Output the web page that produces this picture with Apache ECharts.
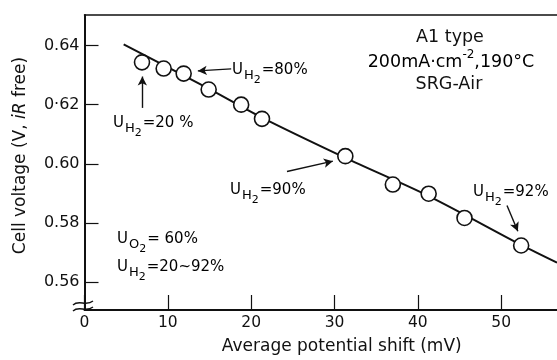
<!DOCTYPE html>
<html>
<head>
<meta charset="utf-8">
<script src="https://cdn.jsdelivr.net/npm/echarts@6.0.0/dist/echarts.min.js"></script>
<style>
  html, body { margin: 0; padding: 0; background: #fff; }
  #chart { width: 557px; height: 360px; }
</style>
</head>
<body>
<div id="chart"></div>
<script>
// measured points (circles)
const shiftMv = [6.9, 9.5, 11.9, 14.9, 18.8, 21.3, 31.3, 37.0, 41.3, 45.6, 52.4];
const cellVoltage = [0.6343, 0.6322, 0.6305, 0.6251, 0.6200, 0.6152, 0.6026, 0.5930, 0.5899, 0.5817, 0.5724];

// drawn curve through the points
const fitX = [4.7, 14.9, 21.3, 31.3, 41.3, 52.4, 56.7];
const fitY = [0.6404, 0.6254, 0.6156, 0.6020, 0.5891, 0.5726, 0.5666];

// ticks
const xTickValues = [0, 10, 20, 30, 40, 50];
const yTickValues = [0.56, 0.58, 0.60, 0.62, 0.64];
const yTickLabels = ['0.56', '0.58', '0.60', '0·62', '0.64'];

// arrows: [tail x, tail y, head x, head y] in data units
const arrows = [
  [6.94, 0.6189, 6.94, 0.6295],
  [17.6, 0.6321, 13.6, 0.6314],
  [24.3, 0.5974, 29.8, 0.6009],
  [50.7, 0.5859, 52.0, 0.5772]
];

const FONT = '"DejaVu Sans", sans-serif';
const INK = '#111';

const subRich = {
  u: { fontSize: 15, fontFamily: FONT, color: INK, verticalAlign: 'top' },
  h: { fontSize: 13, fontFamily: FONT, color: INK, verticalAlign: 'top', padding: [6, 0, 0, 1] },
  n: { fontSize: 11, fontFamily: FONT, color: INK, verticalAlign: 'top', padding: [12, 1, 0, 0] }
};

function uText(sub, rest, left, top) {
  return {
    type: 'text', left: left, top: top,
    style: { text: '{u|U}{h|' + sub + '}{n|2}{u|' + rest + '}', rich: subRich }
  };
}

function squiggle(y) {
  return {
    type: 'bezierCurve',
    shape: { x1: 73, y1: y + 2, cpx1: 79, cpy1: y - 4, cpx2: 86, cpy2: y + 4, x2: 93, y2: y - 2 },
    style: { stroke: INK, lineWidth: 1.3, fill: null }
  };
}

const chart = echarts.init(document.getElementById('chart'));

chart.setOption({
  animation: false,
  backgroundColor: '#fff',
  grid: { left: 84.5, right: 0, top: 15, bottom: 43.4 },
  xAxis: [
    {
      type: 'value', min: 0, max: 56.7,
      name: 'Average potential shift (mV)',
      nameLocation: 'middle', nameGap: 28,
      nameTextStyle: { fontSize: 17, fontFamily: FONT, color: INK, padding: [0, 0, 0, 42] },
      axisLine: { show: true, lineStyle: { color: INK, width: 2 } },
      axisTick: { show: true, inside: true, length: 15, customValues: xTickValues, lineStyle: { color: INK, width: 1.2 } },
      axisLabel: {
        customValues: xTickValues, margin: 5, fontSize: 15.5, fontFamily: FONT, color: INK,
        formatter: v => (xTickValues.indexOf(v) >= 0 ? String(v) : '')
      },
      splitLine: { show: false }
    },
    {
      type: 'value', position: 'top', min: 0, max: 56.7,
      axisLine: { show: true, onZero: false, lineStyle: { color: INK, width: 1.5 } },
      axisTick: { show: false }, axisLabel: { show: false }, splitLine: { show: false }
    }
  ],
  yAxis: {
    type: 'value', min: 0.5506, max: 0.6503,
    name: '{a|Cell voltage (V, }{i|iR}{a| free)}',
    nameLocation: 'middle', nameGap: 55,
    nameTextStyle: {
      padding: [0, 0, 0, 14],
      rich: {
        a: { fontSize: 17, fontFamily: FONT, color: INK },
        i: { fontSize: 17, fontFamily: FONT, color: INK, fontStyle: 'italic' }
      }
    },
    axisLine: { show: true, lineStyle: { color: INK, width: 2 } },
    axisTick: { show: true, inside: true, length: 14, customValues: yTickValues, lineStyle: { color: INK, width: 1.2 } },
    axisLabel: {
      customValues: yTickValues, margin: 5, fontSize: 16, fontFamily: FONT, color: INK,
      formatter: v => {
        const i = yTickValues.findIndex(t => Math.abs(t - v) < 1e-6);
        return i >= 0 ? yTickLabels[i] : '';
      }
    },
    splitLine: { show: false }
  },
  series: [
    {
      type: 'line',
      data: fitX.map((x, i) => [x, fitY[i]]),
      smooth: 0.3,
      showSymbol: false,
      lineStyle: { color: INK, width: 2 },
      markLine: {
        silent: true,
        symbol: ['none', 'arrow'],
        symbolSize: [7, 9],
        label: { show: false },
        lineStyle: { color: INK, width: 1.4, type: 'solid' },
        data: arrows.map(a => [{ coord: [a[0], a[1]] }, { coord: [a[2], a[3]] }])
      },
      z: 2
    },
    {
      type: 'scatter',
      data: shiftMv.map((x, i) => [x, cellVoltage[i]]),
      symbol: 'circle',
      symbolSize: 15,
      itemStyle: { color: '#fff', borderColor: INK, borderWidth: 1.6, opacity: 1 },
      z: 3
    }
  ],
  graphic: [
    uText('H', '=20 %', 113, 116),
    uText('H', '=80%', 232, 63),
    uText('H', '=90%', 230, 183),
    uText('H', '=92%', 473, 185),
    uText('O', '= 60%', 117, 232),
    uText('H', '=20~92%', 117, 260),
    {
      type: 'text', x: 450, y: 37,
      style: { text: 'A1 type', fontSize: 17.5, fontFamily: FONT, fill: INK, align: 'center', verticalAlign: 'middle' }
    },
    {
      type: 'text', x: 451, y: 60,
      style: {
        text: '{a|200mA·cm}{s|-2}{a|,190°C}',
        align: 'center', verticalAlign: 'middle',
        rich: {
          a: { fontSize: 17.5, fontFamily: FONT, color: INK, verticalAlign: 'top', padding: [4, 0, 0, 0] },
          s: { fontSize: 12, fontFamily: FONT, color: INK, verticalAlign: 'top' }
        }
      }
    },
    {
      type: 'text', x: 449, y: 84,
      style: { text: 'SRG-Air', fontSize: 17.5, fontFamily: FONT, fill: INK, align: 'center', verticalAlign: 'middle' }
    },
    squiggle(303),
    squiggle(309)
  ]
});
</script>
</body>
</html>
